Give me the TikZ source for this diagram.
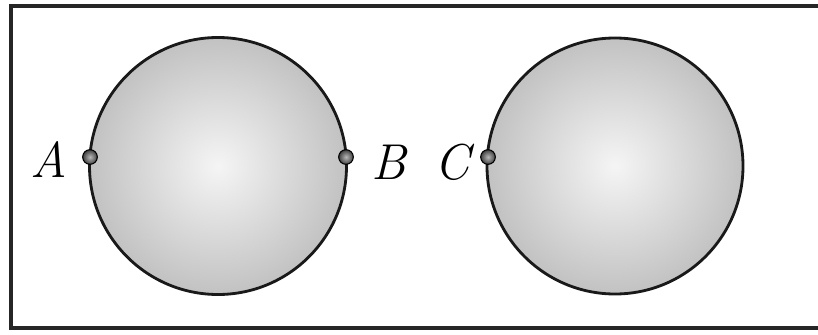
\documentclass[tikz,border=0pt]{standalone}
\tikzset{
  ball/.style={draw=black!90, line width=2.4pt, inner color=gray!8, outer color=gray!48},
  pin/.style={circle, draw=black, line width=0.9pt, inner sep=0pt, minimum size=12.5pt, inner color=gray!55, outer color=black!75},
  lbl/.style={font=\fontsize{43}{45}\selectfont\itshape, inner sep=0pt}
}
\begin{document}
\begin{tikzpicture}[x=0.03cm, y=-0.03cm]
\useasboundingbox (0,0) rectangle (818,334);
\draw[line width=2.6pt, black!85] (11,6) rectangle (830,328);
\path[ball] (218,166) circle (128.5);
\path[ball] (615,166) circle (128);
\node[pin] (a) at (90,157) {};
\node[pin] (b) at (346,157) {};
\node[pin] (c) at (488,157) {};
\node[lbl] (la) at (49,160) {A};
\node[lbl] (lb) at (389,162) {B};
\node[lbl] (lc) at (452,162) {C};
\end{tikzpicture}
\end{document}
